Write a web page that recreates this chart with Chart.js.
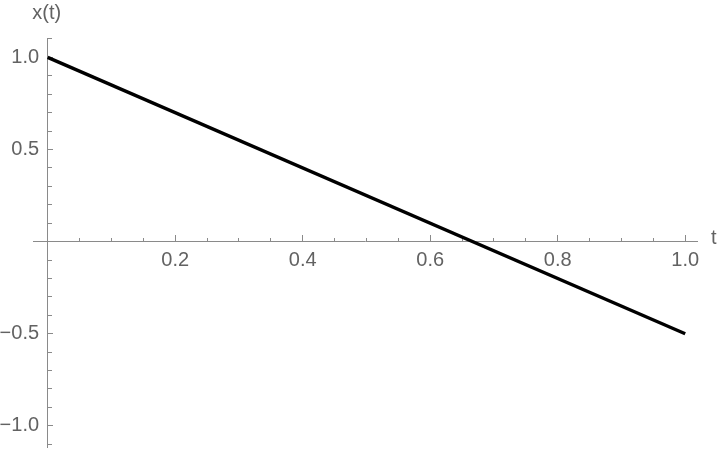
<!DOCTYPE html>
<html>
<head>
<meta charset="utf-8">
<script src="https://cdn.jsdelivr.net/npm/chart.js@4"></script>
<style>
  html, body { margin: 0; padding: 0; background: #fff; }
  #wrap { width: 720px; height: 450px; }
</style>
</head>
<body>
<div id="wrap"><canvas id="myChart"></canvas></div>
<script>
// x(t) = 1 - 1.5 t, read at the two ends of the plotted line
var tValues = [0, 1];
var xValues = [1.0, -0.5];

// tick marks
var tMajorTicks = [0.2, 0.4, 0.6, 0.8, 1.0];
var tMinorTicks = [0.05, 0.1, 0.15, 0.25, 0.3, 0.35, 0.45, 0.5, 0.55, 0.65, 0.7, 0.75, 0.85, 0.9, 0.95];
var xMajorTicks = [-1.0, -0.5, 0.5, 1.0];
var xMinorTicks = [-1.1, -0.9, -0.8, -0.7, -0.6, -0.4, -0.3, -0.2, -0.1, 0.1, 0.2, 0.3, 0.4, 0.6, 0.7, 0.8, 0.9, 1.1];

var axisLabelX = 't';
var axisLabelY = 'x(t)';

var grey = '#626262';
var axisGrey = '#8a8a8a';
var labelFont = { family: 'Liberation Sans, Arial, sans-serif', size: 20 };

function setTicks(list) {
    return function (scale) {
        scale.ticks = list.map(function (v) { return { value: v }; });
    };
}
// the axes sit inside the plot, so they take no layout room
function noSpace(scale) {
    scale.width = 0;
    scale.height = 0;
    scale.paddingLeft = 0;
    scale.paddingRight = 0;
    scale.paddingTop = 0;
    scale.paddingBottom = 0;
}
function fmt(v) {
    return v.toFixed(1).replace('-', '\u2212');
}

var points = tValues.map(function (t, i) { return { x: t, y: xValues[i] }; });

// axis names at the ends of the axes
var axisNames = {
    id: 'axisNames',
    afterDraw: function (chart) {
        var ctx = chart.ctx;
        var xs = chart.scales.x, ys = chart.scales.y;
        ctx.save();
        ctx.fillStyle = grey;
        ctx.font = labelFont.size + 'px ' + labelFont.family;
        ctx.textBaseline = 'middle';
        ctx.textAlign = 'left';
        ctx.fillText(axisLabelX, xs.right + 14, ys.getPixelForValue(0) - 3);
        ctx.textAlign = 'center';
        ctx.fillText(axisLabelY, xs.getPixelForValue(0) - 1, ys.top - 25);
        ctx.restore();
    }
};

var scaleMin = { t: -0.023, x: -1.115 };
var scaleMax = { t: 1.0185, x: 1.105 };

function xScale(ticks, major) {
    return {
        type: 'linear',
        position: { y: 0 },
        min: scaleMin.t,
        max: scaleMax.t,
        afterBuildTicks: setTicks(ticks),
        afterFit: noSpace,
        border: { display: major, color: axisGrey, width: 1 },
        grid: { drawOnChartArea: false, color: axisGrey, tickLength: major ? -7 : -4 },
        ticks: {
            display: major,
            autoSkip: false,
            maxRotation: 0,
            padding: 14,
            color: grey,
            font: labelFont,
            callback: fmt
        }
    };
}
// kind: 'major' draws axis line + long ticks, 'minor' short ticks, 'labels' only the numbers
function yScale(ticks, kind) {
    return {
        type: 'linear',
        position: { x: kind === 'labels' ? -0.0135 : 0 },
        min: scaleMin.x,
        max: scaleMax.x,
        afterBuildTicks: setTicks(ticks),
        afterFit: noSpace,
        border: { display: kind === 'major', color: axisGrey, width: 1 },
        grid: {
            display: kind !== 'labels',
            drawOnChartArea: false,
            color: axisGrey,
            tickLength: kind === 'major' ? -6 : -4
        },
        ticks: {
            display: kind === 'labels',
            autoSkip: false,
            color: grey,
            font: labelFont,
            callback: fmt
        }
    };
}

var ctx = document.getElementById('myChart').getContext('2d');
var myChart = new Chart(ctx, {
    type: 'scatter',
    data: {
        datasets: [{
            data: points,
            showLine: true,
            borderColor: '#000000',
            borderWidth: 3.4,
            pointRadius: 0,
            fill: false
        }]
    },
    options: {
        responsive: true,
        maintainAspectRatio: false,
        animation: false,
        layout: { padding: { left: 33, top: 38, right: 23, bottom: 3 } },
        plugins: { legend: { display: false }, tooltip: { enabled: false } },
        scales: {
            x: xScale(tMajorTicks, true),
            xMinor: xScale(tMinorTicks, false),
            y: yScale(xMajorTicks, 'major'),
            yMinor: yScale(xMinorTicks, 'minor'),
            yLabels: yScale(xMajorTicks, 'labels')
        }
    },
    plugins: [axisNames]
});
</script>
</body>
</html>
